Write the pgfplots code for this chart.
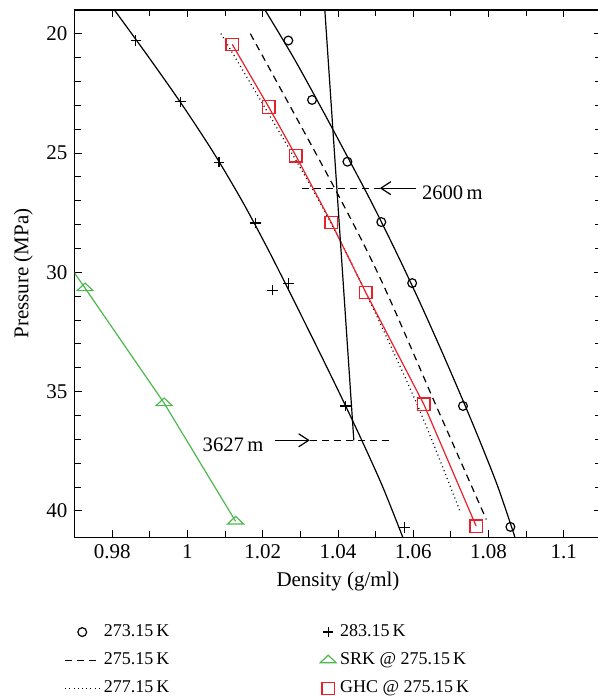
\documentclass[border=0pt]{standalone}
\usepackage{fontspec}
\setmainfont{Liberation Serif}
\usepackage{pgfplots}
\pgfplotsset{compat=1.18}
\usetikzlibrary{arrows.meta}
\definecolor{ghcred}{HTML}{E8202A}
\definecolor{srkgreen}{HTML}{4DB84D}

\begin{document}
\begin{tikzpicture}[font=\fontsize{10.5}{12}\selectfont]
  \begin{axis}[
      name=ax,
      scale only axis,
      width=263.7pt, height=263.8pt,
      xmin=0.97, xmax=1.11,
      ymin=19, ymax=41.1,
      y dir=reverse,
      xtick={0.98,1,1.02,1.04,1.06,1.08,1.1},
      minor x tick num=1,
      ytick={20,25,30,35,40},
      minor y tick num=4,
      tick align=inside,
      major tick length=3.5pt, minor tick length=3pt,
      every tick/.style={black, line width=0.5pt},
      axis line style={line width=0.6pt},
      /pgf/number format/assume math mode=true,
      xlabel={Density (g/ml)},
      ylabel={Pressure (MPa)},
      legend columns=2,
      legend cell align=left,
      legend style={draw=none, fill=none, font=\fontsize{9}{10.5}\selectfont,
        at={(axis description cs:-0.031,-0.150)}, anchor=north west,
        /tikz/every even column/.append style={column sep=73.5pt},
        row sep=2.6pt},
    ]
    % fitted curves (not in legend)
    \addplot[forget plot, black, line width=0.6pt, smooth] coordinates {
      (1.0206,19.0) (1.0282,21) (1.0352,23) (1.0420,25) (1.0487,27) (1.0550,29)
      (1.0610,31) (1.0667,33) (1.0722,35) (1.0775,37) (1.0825,39) (1.0870,41.1)
    };
    \addplot[forget plot, black, line width=0.6pt, smooth] coordinates {
      (0.9806,19) (0.9898,21) (0.9987,23) (1.0070,25) (1.0145,27) (1.0213,29)
      (1.0277,31) (1.0340,33) (1.0402,35) (1.0462,37) (1.0519,39) (1.0572,41.1)
    };
    % 273.15 K
    \addplot[forget plot, only marks, mark=o, mark size=2.2pt, black, line width=0.6pt] coordinates {
      (1.0268,20.28) (1.0331,22.77) (1.0425,25.36) (1.0515,27.89) (1.0597,30.45)
      (1.0732,35.60) (1.0858,40.67)
    };
    % 283.15 K
    \addplot[forget plot, only marks, mark=+, mark size=2.6pt, black, line width=0.6pt] coordinates {
      (0.9863,20.28) (0.9982,22.85) (1.0084,25.38) (1.0181,27.93) (1.0268,30.47)
      (1.0226,30.75) (1.0420,35.60) (1.0577,40.70)
    };
    % 275.15 K
    \addplot[forget plot, black, line width=0.6pt, dash pattern=on 3.5pt off 2.5pt, smooth] coordinates {
      (1.0167,19.99) (1.0391,26.47) (1.0515,30.34) (1.0661,35.6) (1.0794,40.36)
    };
    % 277.15 K
    \addplot[forget plot, black, line width=0.6pt, dash pattern=on 0.5pt off 1.6pt, smooth] coordinates {
      (1.0089,19.99) (1.0331,26.47) (1.0458,30.34) (1.0610,35.53) (1.0723,39.97)
    };
    % SRK @ 275.15 K
    \addplot[forget plot, srkgreen, line width=0.6pt] coordinates {
      (0.9690,29.80) (0.9728,30.66) (0.9938,35.48) (1.0128,40.44)
    };
    \addplot[forget plot, only marks, srkgreen, mark=triangle, mark size=4.6pt,
      mark options={yscale=0.55, line width=0.6pt}] coordinates {
      (0.9728,30.66) (0.9938,35.48) (1.0128,40.44)
    };
    % GHC @ 275.15 K
    \addplot[forget plot, ghcred, line width=0.6pt, mark=square, mark size=3.1pt] coordinates {
      (1.0119,20.44) (1.0216,23.07) (1.0288,25.11) (1.0382,27.91) (1.0474,30.85)
      (1.0628,35.53) (1.0767,40.64)
    };
    % depth markers
    \addplot[forget plot, black, line width=0.6pt] coordinates {(1.0365,19.0) (1.0442,37.04)};
    \addplot[forget plot, black, line width=0.6pt, dash pattern=on 3.5pt off 2.5pt] coordinates {(1.0305,26.47) (1.0511,26.47)};
    \addplot[forget plot, black, line width=0.6pt, -{Straight Barb[length=5pt,width=6.5pt]}] coordinates {(1.0608,26.47) (1.0511,26.47)};
    \node[anchor=west, inner sep=1pt, yshift=-2.5pt, font=\fontsize{10.3}{12}\selectfont] at (axis cs:1.0617,26.47) {2600\,m};
    \addplot[forget plot, black, line width=0.6pt, dash pattern=on 3.5pt off 2.5pt] coordinates {(1.0325,37.04) (1.0542,37.04)};
    \addplot[forget plot, black, line width=0.6pt, -{Straight Barb[length=5pt,width=6.5pt]}] coordinates {(1.0232,37.04) (1.0325,37.04)};
    \node[anchor=east, inner sep=1pt, yshift=-2pt, font=\fontsize{10.3}{12}\selectfont] at (axis cs:1.0208,37.04) {3627\,m};
    % legend, filled column by column
    \addlegendimage{only marks, mark=o, mark size=2.2pt, black, line width=0.6pt}
    \addlegendentry{273.15\,K}
    \addlegendimage{only marks, mark=+, mark size=2.6pt, black, line width=0.6pt}
    \addlegendentry{283.15\,K}
    \addlegendimage{black, line width=0.6pt, dash pattern=on 3.5pt off 2.5pt}
    \addlegendentry{275.15\,K}
    \addlegendimage{only marks, srkgreen, mark=triangle, mark size=4.6pt, mark options={yscale=0.55, line width=0.6pt}}
    \addlegendentry{SRK @ 275.15\,K}
    \addlegendimage{black, line width=0.6pt, dash pattern=on 0.5pt off 1.6pt}
    \addlegendentry{277.15\,K}
    \addlegendimage{only marks, ghcred, mark=square, mark size=3.1pt, line width=0.6pt}
    \addlegendentry{GHC @ 275.15\,K}
  \end{axis}
  \pgfresetboundingbox
  \path[use as bounding box] ([xshift=-37.3pt,yshift=-79.5pt]ax.south west)
    rectangle ([xshift=-2pt,yshift=5pt]ax.north east);
\end{tikzpicture}
\end{document}
